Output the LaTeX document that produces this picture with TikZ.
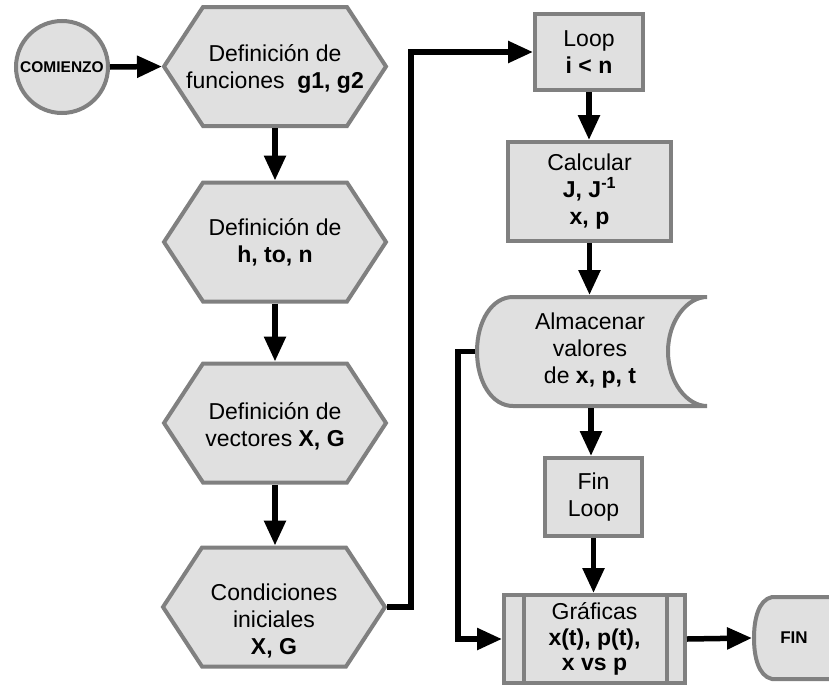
\documentclass[tikz,border=0pt]{standalone}
\usepackage{fontspec}
\setmainfont{Liberation Sans}
\usetikzlibrary{arrows.meta}
\definecolor{boxfill}{HTML}{E0E0E0}
\definecolor{boxline}{HTML}{808080}
\tikzset{
 shapeline/.style={draw=boxline, line width=4pt, fill=boxfill},
 box/.style={shapeline, rectangle, align=center, inner sep=0pt, font=\fontsize{23}{27}\selectfont},
 txt/.style={align=center, inner sep=0pt, font=\fontsize{23}{27}\selectfont},
 geom/.style={inner sep=0pt, outer sep=2pt},
 divline/.style={draw=boxline, line width=4pt},
 arr/.style={line width=5.5pt, black, -{Triangle[length=25pt,width=21pt]}},
}
\newcommand{\myhexa}[5]{%
 \draw[shapeline] ({#2-111},{#3}) -- ({#2-72},{#3-59.5}) -- ({#2+72},{#3-59.5}) -- ({#2+111},{#3}) -- ({#2+72},{#3+59.5}) -- ({#2-72},{#3+59.5}) -- cycle;
 \node[geom, minimum width=222pt, minimum height=119pt] (#1) at (#2,#3) {};
 \node[txt] (#1t) at (#2,{#3+#4}) {#5};
}
\begin{document}
\begin{tikzpicture}[x=1pt,y=-1pt]
\useasboundingbox (0,0) rectangle (829,688);
% start
\node[shapeline, circle, minimum size=92pt, inner sep=0pt, font=\bfseries\fontsize{15.5}{18}\selectfont] (start) at (62,67) {COMIENZO};
% hexagons
\myhexa{h1}{275}{66.5}{2}{Definición de\\funciones \ \textbf{g1, g2}}
\myhexa{h2}{275}{242}{0}{Definición de\\\textbf{h, to, n}}
\myhexa{h3}{275}{423}{3}{Definición de\\vectores \textbf{X, G}}
\myhexa{h4}{274}{607}{14}{Condiciones\\iniciales\\\textbf{X, G}}
% right column
\node[box, minimum width=108pt, minimum height=76pt] (loop) at (589,52) {Loop\\\textbf{i < n}};
\node[box, minimum width=163pt, minimum height=99pt] (calc) at (589.5,191.5) {Calcular\\\textbf{J, J\textsuperscript{-1}}\\\textbf{x, p}};
% almacenar (stored data)
\draw[shapeline, line cap=round] (513,297) -- (707,297)
  .. controls (687,297) and (668,321) .. (668,351.5)
  .. controls (668,382) and (687,406) .. (707,406)
  -- (513,406)
  .. controls (492,406) and (477,382) .. (477,351.5)
  .. controls (477,321) and (492,297) .. (513,297) -- cycle;
\node[geom, minimum width=228pt, minimum height=109pt] (alm) at (591,351.5) {};
\node[txt] (almt) at (590,351) {Almacenar\\valores\\de \textbf{x, p, t}};
\node[box, minimum width=97pt, minimum height=78pt] (finloop) at (593.5,497) {Fin\\Loop};
\node[box, minimum width=181pt, minimum height=88pt, font=\fontsize{23}{25.5}\selectfont] (graf) at (594.5,639) {Gráficas\\\textbf{x(t), p(t),}\\\textbf{x vs p}};
\draw[divline] ([xshift=22pt]graf.north west) -- ([xshift=22pt]graf.south west);
\draw[divline] ([xshift=-20pt]graf.north east) -- ([xshift=-20pt]graf.south east);
% FIN terminal
\draw[shapeline] (860,597) -- (772,597)
  .. controls (758,600) and (754,620) .. (754,638)
  .. controls (754,656) and (758,676) .. (772,679) -- (860,679) -- cycle;
\node[geom, minimum width=80pt, minimum height=82pt, font=\bfseries\fontsize{17}{20}\selectfont] (fin) at (794,638) {FIN};
% connectors
\draw[arr] (start.east) -- (h1.west);
\draw[arr] (h1.south) -- (h2.north);
\draw[arr] (h2.south) -- (h3.north);
\draw[arr] (h3.south) -- (h3.south |- h4.north);
\draw[arr] (h4.east) -- ++(24,0) |- (loop.west);
\draw[arr] (loop.south) -- (loop.south |- calc.north);
\draw[arr] (calc.south) -- (calc.south |- alm.north);
\draw[arr] (alm.south) -- (alm.south |- finloop.north);
\draw[arr] (finloop.south) -- (finloop.south |- graf.north);
\draw[arr] (alm.west) -- ++(-17,0) |- (graf.west);
\draw[arr] (graf.east) -- (fin.west);
\end{tikzpicture}
\end{document}
